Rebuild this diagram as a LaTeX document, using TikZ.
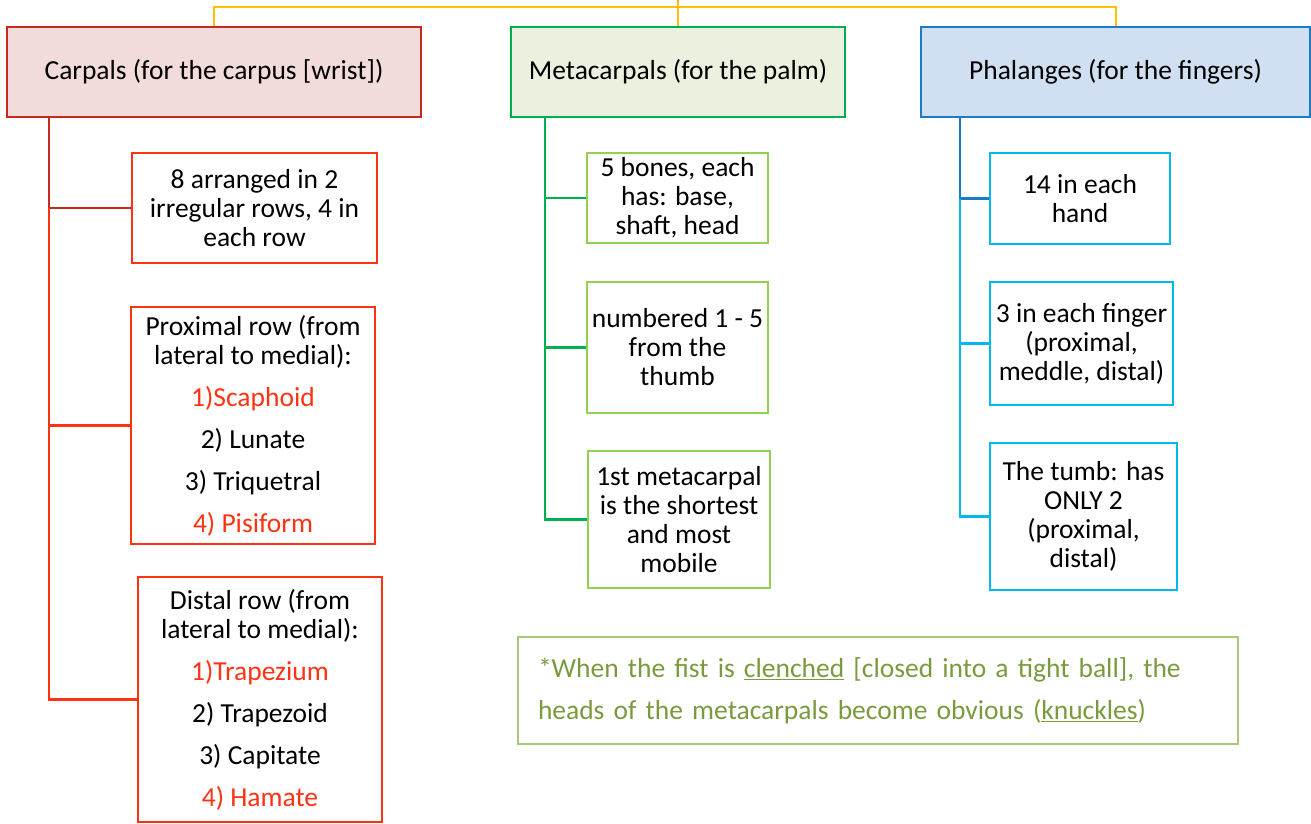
\documentclass[tikz,border=0pt]{standalone}
\usepackage{fontspec}
\setmainfont{Carlito}
\usetikzlibrary{positioning}

\definecolor{yel}{HTML}{FFC000}
\definecolor{carpdark}{HTML}{C9281E}
\definecolor{carpfill}{HTML}{F2DCDB}
\definecolor{carpred}{HTML}{FF3212}
\definecolor{metadark}{HTML}{00B050}
\definecolor{metafill}{HTML}{EBF1DE}
\definecolor{metalight}{HTML}{92D050}
\definecolor{phaldark}{HTML}{1A7CC9}
\definecolor{phalfill}{HTML}{D0E0F2}
\definecolor{phallight}{HTML}{00B8F0}
\definecolor{noteline}{HTML}{AAC77E}
\definecolor{notetext}{HTML}{7A9A3E}

\tikzset{
	box/.style={draw,rectangle,align=center,line width=2.5bp,inner sep=0pt,
		font=\fontsize{27.5bp}{29bp}\selectfont},
	head/.style={box,minimum height=90bp},
	link/.style={line width=2.5bp},
}

\begin{document}
\begin{tikzpicture}[x=1bp,y=-1bp]
	
	%\draw[help lines] (0,0) grid[step=50] (1311,823);
	\useasboundingbox (0,0) rectangle (1311,823);
	
	% top row
	\node[head,draw=carpdark,fill=carpfill,minimum width=414bp] (carp) at (214,72) {Carpals (for the carpus [wrist])};
	\node[head,draw=metadark,fill=metafill,minimum width=334bp] (meta) at (678,72) {Metacarpals (for the palm)};
	\node[head,draw=phaldark,fill=phalfill,minimum width=389bp] (phal) at (1115.5,72) {Phalanges (for the fingers)};
	
	\coordinate (top) at (673,0);
	\draw[yel,line width=2bp] (carp.north) -- ++(0,-19) -| (phal.north);
	\draw[yel,line width=2bp] (meta.north) -- (meta.north |- top);
	
	% carpals
	\node[box,draw=carpred,minimum width=245bp,minimum height=110bp] (c1) at (254.5,208) {8 arranged in 2\\irregular rows, 4 in\\each row};
	\node[box,draw=carpred,minimum width=244bp,minimum height=237bp] (c2) at (253,425.5) {Proximal row (from\\lateral to medial):\\[13bp]
		\textcolor{carpred}{1)Scaphoid}\\[13bp] 2) Lunate\\[13bp] 3) Triquetral\\[13bp] \textcolor{carpred}{4) Pisiform}};
	\node[box,draw=carpred,minimum width=244bp,minimum height=245bp] (c3) at (260,699.5) {Distal row (from\\lateral to medial):\\[13bp]
		\textcolor{carpred}{1)Trapezium}\\[13bp] 2) Trapezoid\\[13bp] 3) Capitate\\[13bp] \textcolor{carpred}{4) Hamate}};
	
	\coordinate (cspine) at (49,0);
	\draw[link,carpdark] (carp.south -| cspine) |- (c1.west);
	\draw[link,carpred] (c1.west -| cspine) |- (c3.west);
	\draw[link,carpred] (c2.west -| cspine) -- (c2.west);
	
	% metacarpals
	\node[box,draw=metalight,minimum width=181bp,minimum height=90bp] (m1) at (677.5,198) {5 bones, each\\has: base,\\shaft, head};
	\node[box,draw=metalight,minimum width=181bp,minimum height=131bp] (m2) at (677.5,347.5) {numbered 1 - 5\\from the\\thumb};
	\node[box,draw=metalight,minimum width=182bp,minimum height=137bp] (m3) at (679,519.5) {1st metacarpal\\is the shortest\\and most\\mobile};
	
	\coordinate (mspine) at (545,0);
	\draw[link,metadark] (meta.south -| mspine) |- (m3.west);
	\draw[link,metadark] (m1.west -| mspine) -- (m1.west);
	\draw[link,metadark] (m2.west -| mspine) -- (m2.west);
	
	% phalanges
	\node[box,draw=phallight,minimum width=180bp,minimum height=91bp] (p1) at (1080,198.5) {14 in each\\hand};
	\node[box,draw=phallight,minimum width=183bp,minimum height=123bp] (p2) at (1081.5,343.5) {3 in each finger\\(proximal,\\meddle, distal)};
	\node[box,draw=phallight,minimum width=187bp,minimum height=147bp] (p3) at (1083.5,516.5) {The tumb: has\\ONLY 2\\(proximal,\\distal)};
	
	\coordinate (pspine) at (960,0);
	\draw[link,phaldark] (phal.south -| pspine) |- (p1.west);
	\draw[link,phallight] (p1.west -| pspine) |- (p3.west);
	\draw[link,phallight] (p2.west -| pspine) -- (p2.west);
	
	% note
	\node[box,draw=noteline,line width=2bp,minimum width=720bp,minimum height=107bp,text width=680bp,align=left,text=notetext] (note) at (878,690.5)
		{*When the fist is \underline{clenched} [closed into a tight ball], the\\[13bp] heads of the metacarpals become obvious (\underline{knuckles})};
	
\end{tikzpicture}
\end{document}
